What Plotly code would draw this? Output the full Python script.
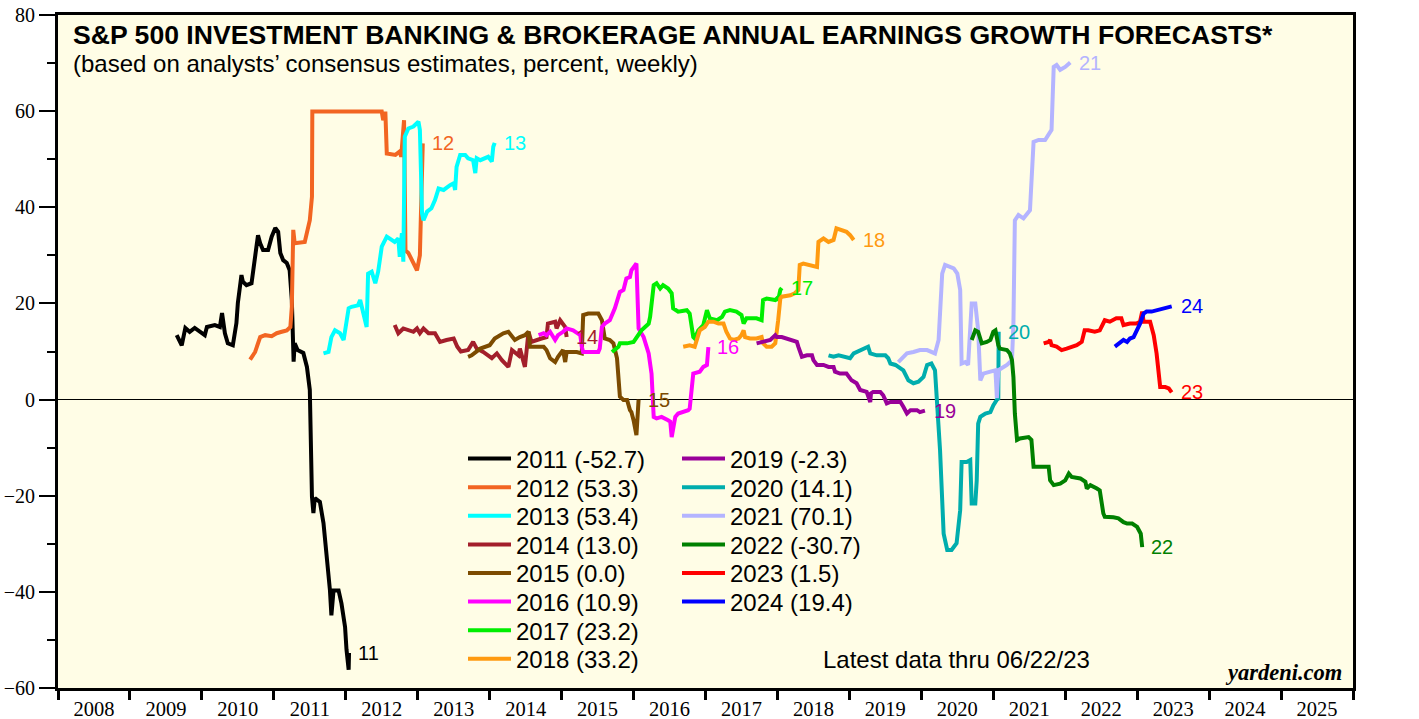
import plotly.graph_objects as go

# ---------------- data (decimal year, % growth forecast) ----------------
years = [2011, 2012, 2013, 2014, 2015, 2016, 2017, 2018, 2019, 2020, 2021, 2022, 2023, 2024]
final_values = [-52.7, 53.3, 53.4, 13.0, 0.0, 10.9, 23.2, 33.2, -2.3, 14.1, 70.1, -30.7, 1.5, 19.4]
colors = ["#000000", "#F26522", "#00FFFF", "#A31F2B", "#7C4B00", "#FF00FF", "#00EE00",
          "#FF9A10", "#990099", "#00ADAD", "#B4B4FF", "#008000", "#FF0000", "#0000FF"]

s2011 = [(2009.65, 13.4), (2009.72, 11.3), (2009.77, 14.9), (2009.83, 14.1), (2009.90, 14.9), (2009.97, 14.1),
         (2010.04, 13.4), (2010.07, 15.1), (2010.18, 15.5), (2010.25, 15.1), (2010.28, 18.0), (2010.32, 13.8),
         (2010.36, 11.7), (2010.43, 11.3), (2010.48, 15.9), (2010.50, 20.1), (2010.55, 25.9), (2010.57, 24.5),
         (2010.62, 23.8), (2010.69, 24.2), (2010.74, 29.7), (2010.78, 34.2), (2010.81, 32.5), (2010.85, 31.1),
         (2010.92, 31.1), (2010.97, 33.9), (2011.02, 35.7), (2011.06, 34.9), (2011.09, 30.5), (2011.13, 29.0),
         (2011.18, 28.4), (2011.22, 26.9), (2011.25, 20.7), (2011.27, 12.4), (2011.275, 7.9), (2011.29, 11.7),
         (2011.33, 10.3), (2011.41, 9.7), (2011.46, 6.8), (2011.50, 2.0), (2011.53, -20.2), (2011.55, -23.6),
         (2011.57, -20.5), (2011.64, -21.3), (2011.69, -25.7), (2011.78, -39.7), (2011.80, -44.9),
         (2011.83, -39.7), (2011.90, -39.7), (2011.94, -42.4), (2011.99, -47.3), (2012.01, -52.0),
         (2012.04, -56.2), (2012.045, -52.7)]

s2012 = [(2010.67, 8.3), (2010.74, 9.9), (2010.81, 13.0), (2010.88, 13.4), (2010.97, 13.2), (2011.04, 13.8),
         (2011.11, 14.1), (2011.18, 14.4), (2011.23, 15.1), (2011.25, 19.3), (2011.27, 35.3), (2011.29, 32.5),
         (2011.43, 32.8), (2011.50, 37.3), (2011.53, 42.2), (2011.535, 59.9), (2012.50, 59.9), (2012.52, 58.1),
         (2012.55, 59.9), (2012.57, 51.2), (2012.69, 50.9), (2012.75, 51.6), (2012.77, 50.5), (2012.81, 58.1),
         (2012.83, 31.0), (2012.87, 30.5), (2012.93, 28.7), (2012.99, 26.9), (2013.03, 30.0), (2013.06, 53.0),
         (2013.07, 53.3)]

s2013 = [(2011.69, 9.6), (2011.76, 9.9), (2011.80, 13.0), (2011.85, 14.4), (2011.92, 13.8), (2011.97, 12.4),
         (2012.04, 19.0), (2012.08, 19.3), (2012.17, 19.6), (2012.20, 20.7), (2012.29, 15.1), (2012.31, 26.2),
         (2012.36, 26.6), (2012.41, 24.2), (2012.45, 26.6), (2012.50, 31.8), (2012.57, 33.9), (2012.68, 32.8),
         (2012.73, 33.5), (2012.75, 29.7), (2012.78, 34.6), (2012.80, 28.7), (2012.82, 54.7), (2012.87, 56.4),
         (2012.94, 56.8), (2013.01, 57.8), (2013.03, 56.1), (2013.06, 38.7), (2013.08, 37.3), (2013.13, 39.1),
         (2013.19, 39.8), (2013.24, 41.5), (2013.29, 43.9), (2013.36, 43.6), (2013.45, 44.6), (2013.50, 45.0),
         (2013.52, 43.6), (2013.54, 48.4), (2013.59, 50.9), (2013.66, 50.9), (2013.70, 50.2), (2013.77, 49.8),
         (2013.80, 47.1), (2013.82, 50.2), (2013.87, 49.8), (2013.94, 50.2), (2013.98, 50.5), (2014.03, 49.5),
         (2014.05, 52.6), (2014.07, 53.4)]

s2014 = [(2012.68, 15.5), (2012.73, 13.8), (2012.80, 14.8), (2012.87, 14.4), (2012.94, 14.1), (2012.99, 14.8),
         (2013.03, 13.8), (2013.08, 14.8), (2013.15, 13.8), (2013.24, 13.8), (2013.31, 12.0), (2013.40, 12.4),
         (2013.50, 12.7), (2013.55, 11.0), (2013.60, 10.0), (2013.70, 10.3), (2013.77, 12.0), (2013.82, 10.6),
         (2013.91, 9.9), (2014.03, 8.6), (2014.10, 9.6), (2014.17, 8.2), (2014.26, 6.8), (2014.31, 10.3),
         (2014.40, 9.2), (2014.42, 10.6), (2014.49, 6.8), (2014.54, 14.1), (2014.58, 12.0), (2014.72, 12.7),
         (2014.79, 13.0), (2014.81, 15.8), (2014.91, 16.2), (2014.93, 14.8), (2014.98, 16.5), (2015.05, 15.1),
         (2015.07, 13.0)]

s2015 = [(2013.70, 8.9), (2013.75, 9.2), (2013.87, 10.6), (2014.00, 11.3), (2014.07, 12.7), (2014.19, 13.8),
         (2014.26, 14.1), (2014.31, 13.0), (2014.35, 12.4), (2014.42, 13.0), (2014.49, 13.4), (2014.54, 14.1),
         (2014.56, 11.0), (2014.65, 11.0), (2014.75, 11.0), (2014.79, 10.3), (2014.84, 8.6), (2014.91, 7.8),
         (2014.95, 8.9), (2015.02, 10.3), (2015.05, 7.8), (2015.07, 9.9), (2015.21, 9.9), (2015.28, 9.6),
         (2015.30, 17.6), (2015.37, 17.9), (2015.51, 17.9), (2015.56, 16.5), (2015.60, 12.7), (2015.67, 12.4),
         (2015.72, 11.7), (2015.77, 8.6), (2015.81, 0.6), (2015.86, -0.1), (2015.91, -0.1), (2015.95, -2.2),
         (2015.97, -2.6), (2016.00, -4.3), (2016.04, -7.4), (2016.07, 0.0)]

s2016 = [(2014.68, 13.4), (2014.75, 13.8), (2014.79, 13.4), (2014.84, 14.1), (2014.91, 12.4), (2014.95, 13.4),
         (2015.02, 14.1), (2015.07, 14.8), (2015.16, 14.4), (2015.23, 13.8), (2015.26, 13.4), (2015.28, 11.0),
         (2015.30, 9.9), (2015.39, 9.9), (2015.51, 9.9), (2015.53, 10.6), (2015.56, 15.1), (2015.60, 15.8),
         (2015.67, 16.5), (2015.74, 19.0), (2015.81, 22.4), (2015.86, 22.8), (2015.90, 25.2), (2015.95, 25.5),
         (2015.97, 26.9), (2016.04, 28.3), (2016.07, 14.8), (2016.14, 13.0), (2016.21, 9.6), (2016.25, 5.4),
         (2016.28, -3.6), (2016.32, -3.9), (2016.39, -3.6), (2016.48, -4.3), (2016.51, -4.6), (2016.53, -7.8),
         (2016.55, -5.7), (2016.58, -3.6), (2016.62, -2.9), (2016.69, -2.6), (2016.76, -2.2), (2016.78, -1.9),
         (2016.81, 3.4), (2016.83, 5.4), (2016.92, 5.8), (2016.97, 6.8), (2017.02, 7.2), (2017.04, 10.9)]

s2017 = [(2015.70, 9.9), (2015.79, 11.0), (2015.81, 11.7), (2015.91, 11.7), (2016.00, 12.0), (2016.04, 13.0),
         (2016.11, 14.4), (2016.16, 15.1), (2016.21, 15.8), (2016.23, 17.2), (2016.25, 20.0), (2016.28, 23.8),
         (2016.32, 24.2), (2016.37, 23.1), (2016.41, 23.8), (2016.48, 23.1), (2016.53, 22.1), (2016.55, 19.0),
         (2016.62, 18.3), (2016.74, 18.6), (2016.78, 17.9), (2016.83, 13.0), (2016.85, 12.7), (2016.90, 14.4),
         (2016.97, 15.5), (2017.02, 18.6), (2017.06, 16.9), (2017.16, 16.5), (2017.23, 17.2), (2017.27, 18.3),
         (2017.34, 18.6), (2017.43, 18.3), (2017.50, 17.6), (2017.53, 15.8), (2017.57, 16.9), (2017.71, 16.9),
         (2017.78, 16.5), (2017.80, 20.7), (2017.85, 21.0), (2017.92, 20.7), (2017.97, 20.7), (2017.99, 21.0),
         (2018.01, 20.7), (2018.04, 22.8), (2018.06, 23.2)]

s2018 = [(2016.69, 11.0), (2016.78, 11.3), (2016.85, 11.0), (2016.88, 12.7), (2016.92, 14.4), (2016.99, 15.1),
         (2017.04, 16.2), (2017.11, 16.2), (2017.18, 15.8), (2017.25, 15.8), (2017.29, 14.1), (2017.34, 12.7),
         (2017.39, 12.4), (2017.46, 12.7), (2017.50, 13.4), (2017.53, 14.4), (2017.55, 13.0), (2017.62, 12.7),
         (2017.71, 12.7), (2017.78, 13.0), (2017.80, 11.7), (2017.85, 11.0), (2017.92, 11.0), (2017.97, 11.7),
         (2017.99, 13.8), (2018.01, 16.5), (2018.04, 21.0), (2018.06, 21.4), (2018.18, 21.7), (2018.24, 22.1),
         (2018.29, 22.8), (2018.31, 28.0), (2018.36, 28.3), (2018.45, 28.0), (2018.55, 27.6), (2018.57, 32.8),
         (2018.64, 33.5), (2018.71, 32.8), (2018.78, 33.2), (2018.82, 35.6), (2018.89, 35.3), (2018.96, 34.9),
         (2019.01, 34.2), (2019.06, 33.2)]

s2019 = [(2017.71, 11.7), (2017.80, 12.0), (2017.90, 12.4), (2017.97, 13.4), (2017.99, 13.0), (2018.06, 13.0),
         (2018.13, 12.7), (2018.22, 12.4), (2018.27, 12.0), (2018.29, 11.0), (2018.34, 8.9), (2018.41, 9.2),
         (2018.48, 9.2), (2018.50, 8.2), (2018.55, 7.2), (2018.64, 7.2), (2018.71, 6.8), (2018.78, 6.8),
         (2018.80, 5.8), (2018.87, 5.4), (2018.96, 5.4), (2019.03, 4.0), (2019.10, 3.4), (2019.15, 2.0),
         (2019.24, 1.6), (2019.29, -0.5), (2019.30, 1.3), (2019.33, 1.6), (2019.43, 1.6), (2019.47, 0.9),
         (2019.52, -0.8), (2019.57, -0.5), (2019.71, -0.5), (2019.75, -1.5), (2019.80, -2.9), (2019.85, -2.2),
         (2019.94, -2.2), (2019.98, -2.6), (2020.05, -2.3)]

s2020 = [(2018.71, 9.2), (2018.78, 8.9), (2018.85, 9.2), (2018.92, 8.9), (2019.01, 8.6), (2019.06, 9.6),
         (2019.17, 10.3), (2019.26, 11.0), (2019.29, 9.6), (2019.38, 9.2), (2019.50, 9.2), (2019.54, 8.6),
         (2019.57, 7.5), (2019.64, 7.2), (2019.71, 6.5), (2019.75, 6.1), (2019.82, 4.0), (2019.89, 3.4),
         (2019.96, 3.7), (2020.03, 4.7), (2020.08, 7.2), (2020.14, 7.5), (2020.19, 6.1), (2020.22, -0.1),
         (2020.26, -10.5), (2020.31, -27.9), (2020.36, -31.3), (2020.42, -31.3), (2020.49, -29.9),
         (2020.54, -23.0), (2020.56, -13.0), (2020.63, -13.0), (2020.68, -12.6), (2020.70, -21.6),
         (2020.75, -21.6), (2020.77, -16.8), (2020.79, -5.0), (2020.82, -3.6), (2020.89, -2.9), (2020.96, -2.6),
         (2021.00, -1.2), (2021.05, 0.0), (2021.07, 0.2), (2021.075, 14.1)]

s2021 = [(2019.68, 7.8), (2019.80, 9.6), (2019.89, 9.9), (2019.98, 10.3), (2020.08, 10.3), (2020.19, 9.6),
         (2020.24, 12.4), (2020.29, 26.2), (2020.33, 28.0), (2020.45, 27.3), (2020.50, 26.2), (2020.54, 22.8),
         (2020.56, 7.5), (2020.61, 7.8), (2020.65, 7.2), (2020.70, 20.0), (2020.75, 20.0), (2020.79, 14.4),
         (2020.82, 4.0), (2020.86, 5.4), (2020.96, 5.8), (2021.03, 6.1), (2021.05, 0.3), (2021.07, 6.1),
         (2021.19, 7.2), (2021.26, 8.2), (2021.28, 15.8), (2021.30, 37.3), (2021.35, 38.4), (2021.42, 37.7),
         (2021.51, 39.4), (2021.56, 53.6), (2021.63, 54.0), (2021.72, 54.0), (2021.81, 56.1), (2021.84, 69.2),
         (2021.88, 69.6), (2021.93, 68.6), (2022.00, 69.2), (2022.07, 70.1)]

s2022 = [(2020.70, 12.4), (2020.75, 14.4), (2020.79, 14.1), (2020.84, 11.7), (2020.91, 12.0), (2020.96, 12.4),
         (2021.00, 14.1), (2021.03, 14.4), (2021.07, 11.3), (2021.09, 10.6), (2021.19, 10.3), (2021.23, 9.6),
         (2021.26, 8.2), (2021.28, 4.7), (2021.30, -2.9), (2021.33, -8.4), (2021.37, -8.1), (2021.49, -7.8),
         (2021.53, -8.4), (2021.56, -14.0), (2021.60, -14.0), (2021.77, -14.0), (2021.79, -16.8),
         (2021.84, -17.8), (2021.93, -17.5), (2022.00, -16.8), (2022.05, -15.4), (2022.09, -16.1),
         (2022.21, -16.4), (2022.28, -17.1), (2022.30, -18.5), (2022.35, -17.8), (2022.44, -18.5),
         (2022.48, -18.9), (2022.53, -23.7), (2022.55, -24.4), (2022.67, -24.5), (2022.74, -24.7),
         (2022.81, -25.5), (2022.86, -25.8), (2022.93, -25.8), (2023.00, -26.5), (2023.05, -27.9),
         (2023.07, -30.7)]

s2023 = [(2021.70, 11.7), (2021.77, 12.0), (2021.79, 12.4), (2021.81, 11.3), (2021.88, 11.0), (2021.95, 10.3),
         (2022.02, 10.6), (2022.09, 11.0), (2022.16, 11.3), (2022.23, 12.0), (2022.27, 14.4), (2022.32, 14.4),
         (2022.41, 14.1), (2022.48, 14.4), (2022.53, 15.8), (2022.55, 16.5), (2022.62, 16.2), (2022.71, 16.9),
         (2022.78, 16.9), (2022.81, 15.5), (2022.90, 15.8), (2022.99, 15.8), (2023.04, 16.2), (2023.07, 18.3),
         (2023.09, 16.2), (2023.18, 16.2), (2023.23, 13.4), (2023.27, 9.6), (2023.32, 2.6), (2023.39, 2.6),
         (2023.44, 2.3), (2023.48, 1.5)]

s2024 = [(2022.69, 11.0), (2022.76, 11.7), (2022.81, 12.4), (2022.86, 12.0), (2022.90, 12.7), (2022.95, 13.0),
         (2022.99, 14.1), (2023.04, 15.8), (2023.09, 17.9), (2023.13, 18.3), (2023.20, 18.3), (2023.27, 18.6),
         (2023.34, 19.0), (2023.41, 19.3), (2023.48, 19.4)]

series = [s2011, s2012, s2013, s2014, s2015, s2016, s2017, s2018, s2019, s2020, s2021, s2022, s2023, s2024]

axis_years = list(range(2008, 2026))
axis_labels = [str(y) for y in axis_years]

# ---------------- figure ----------------
W, H = 1419, 719
ML, MR, MT, MB = 58, 66, 15, 31
PW, PH = W - ML - MR, H - MT - MB


def px_x(px):
    return (px - ML) / PW


def px_y(py):
    return (H - MB - py) / PH


SANS = "Liberation Sans, Arial, Helvetica, sans-serif"
SERIF = "Liberation Serif, Times New Roman, serif"

fig = go.Figure()
layout_legends = {}
for i, (yr, pts) in enumerate(zip(years, series)):
    lid = "legend" if i == 0 else f"legend{i + 1}"
    fig.add_trace(go.Scatter(
        x=[p[0] for p in pts], y=[p[1] for p in pts], mode="lines",
        line=dict(color=colors[i], width=4),
        name=f"{yr} ({final_values[i]:.1f})", legend=lid,
    ))
    fig.add_annotation(x=pts[-1][0], y=pts[-1][1], text=str(yr)[2:], showarrow=False,
                       xanchor="left", yanchor="middle", xshift=7,
                       font=dict(family=SANS, size=20, color=colors[i]))
    col, row = divmod(i, 8)
    layout_legends[lid] = dict(
        x=px_x(463 + 214 * col), y=px_y(459 + 28.6 * row), xanchor="left", yanchor="middle",
        bgcolor="rgba(0,0,0,0)", borderwidth=0, itemwidth=43,
        font=dict(family=SANS, size=24, color="black"),
    )

fig.update_layout(**layout_legends)

fig.update_layout(
    width=W, height=H,
    margin=dict(l=ML, r=MR, t=MT, b=MB, pad=0, autoexpand=False),
    paper_bgcolor="white", plot_bgcolor="#FFFDE6",
    showlegend=True,
    xaxis=dict(
        range=[2008, 2026], tickmode="array", automargin=False,
        tickvals=[y + 0.5 for y in axis_years], ticktext=axis_labels,
        ticks="", tickfont=dict(family=SERIF, size=20.5, color="black"),
        showline=True, linecolor="black", linewidth=3, mirror=True,
        showgrid=False, zeroline=False,
        minor=dict(tickmode="array", tickvals=list(range(2008, 2027)), ticks="outside",
                   ticklen=9, tickwidth=3, tickcolor="black", showgrid=False),
    ),
    yaxis=dict(
        range=[-60, 80], tick0=0, dtick=20, ticks="outside", ticklen=16, tickwidth=2,
        automargin=False,
        tickcolor="black", tickfont=dict(family=SERIF, size=20, color="black"),
        showline=True, linecolor="black", linewidth=3, mirror=True,
        showgrid=False, zeroline=True, zerolinecolor="black", zerolinewidth=1,
        minor=dict(dtick=10, ticks="outside", ticklen=8, tickwidth=2, tickcolor="black", showgrid=False),
    ),
    yaxis2=dict(
        range=[-60, 80], overlaying="y", side="right", tick0=0, dtick=20, automargin=False,
        ticks="outside", ticklen=16, tickwidth=2, tickcolor="black",
        tickfont=dict(family=SERIF, size=20, color="black"),
        showline=False, showgrid=False, zeroline=False,
        minor=dict(dtick=10, ticks="outside", ticklen=8, tickwidth=2, tickcolor="black", showgrid=False),
    ),
)

fig.add_annotation(xref="paper", yref="paper", x=px_x(71), y=px_y(35), xanchor="left", yanchor="middle",
                   showarrow=False,
                   text="<b>S&amp;P 500 INVESTMENT BANKING &amp; BROKERAGE ANNUAL EARNINGS GROWTH FORECASTS*</b>",
                   font=dict(family=SANS, size=26.6, color="black"))
fig.add_annotation(xref="paper", yref="paper", x=px_x(71), y=px_y(64), xanchor="left", yanchor="middle",
                   showarrow=False, text="(based on analysts’ consensus estimates, percent, weekly)",
                   font=dict(family=SANS, size=24, color="black"))
fig.add_annotation(xref="paper", yref="paper", x=px_x(956), y=px_y(659), xanchor="center", yanchor="middle",
                   showarrow=False, text="Latest data thru 06/22/23",
                   font=dict(family=SANS, size=24, color="black"))
fig.add_annotation(xref="paper", yref="paper", x=px_x(1344), y=px_y(672), xanchor="right", yanchor="middle",
                   showarrow=False, text="<b><i>yardeni.com</i></b>",
                   font=dict(family=SERIF, size=22.5, color="black"))

# remove the browser's default page margin so the figure sits at the window's corner
fig.write_html("out.html", config={"displayModeBar": False},
               post_script="document.body.style.margin='0px';document.body.style.overflow='hidden';")
